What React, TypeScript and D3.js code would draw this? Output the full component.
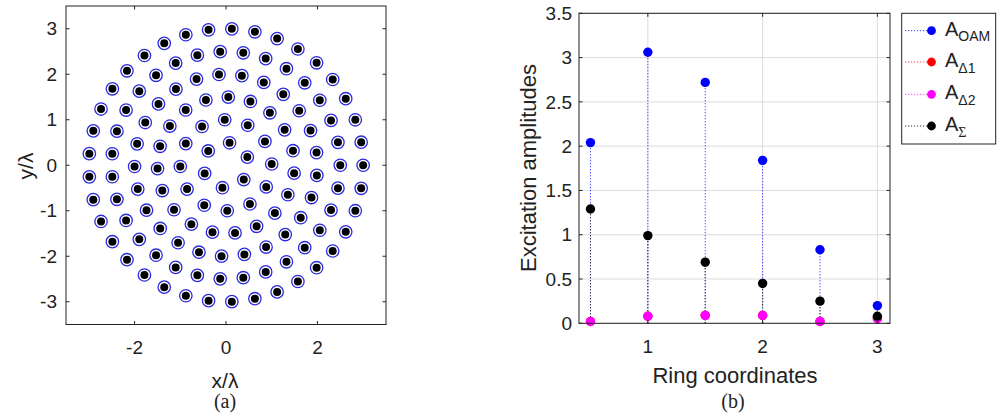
import React from "react";
import * as d3 from "d3";

// ---- Panel (a): concentric ring array ----
const ringRadii = [0.5, 1, 1.5, 2, 2.5, 3];
const ringCounts = [6, 12, 19, 25, 31, 37];
const ringStartDeg = [21, 1.6, 12.3, 8, 0, 0];
const aTicks = [-3, -2, -1, 0, 1, 2, 3];
const aXTicks = [-2, 0, 2];

// ---- Panel (b): excitation amplitudes ----
const ringCoords = [0.5, 1, 1.5, 2, 2.5, 3];
const aOAM = [2.04, 3.06, 2.72, 1.84, 0.83, 0.2];
const aDelta1 = [0.02, 0.08, 0.09, 0.09, 0.02, 0.055];
const aDelta2 = [0.02, 0.08, 0.09, 0.09, 0.02, 0.055];
const aSigma = [1.29, 0.99, 0.69, 0.45, 0.25, 0.08];
const bYTicks = [0, 0.5, 1, 1.5, 2, 2.5, 3, 3.5];
const bXTicks = [1, 2, 3];

const FONT = "'Liberation Sans', Arial, sans-serif";
const SERIF = "'Liberation Serif', 'Times New Roman', serif";

export default function App() {
  // Panel (a) geometry
  const ax = d3.scaleLinear().domain([-3.5, 3.5]).range([66, 386]);
  const ay = d3.scaleLinear().domain([-3.5, 3.5]).range([324.5, 6]);

  const elements: { x: number; y: number }[] = [];
  ringRadii.forEach((r, i) => {
    const n = ringCounts[i];
    for (let k = 0; k < n; k++) {
      const th = ((ringStartDeg[i] + (360 * k) / n) * Math.PI) / 180;
      elements.push({ x: r * Math.cos(th), y: r * Math.sin(th) });
    }
  });

  // Panel (b) geometry
  const bx = d3.scaleLinear().domain([0.4, 3.11]).range([579, 890]);
  const by = d3.scaleLinear().domain([0, 3.5]).range([323.3, 13.3]);

  const series = [
    { name: "OAM", vals: aOAM, color: "#0000ff", stem: "#3b3bff" },
    { name: "D1", vals: aDelta1, color: "#ff0000", stem: "#ff4040" },
    { name: "D2", vals: aDelta2, color: "#ff00ff", stem: "#ff40ff" },
    { name: "S", vals: aSigma, color: "#000000", stem: "#333333" },
  ];

  const legendRows = [30.7, 62, 94.3, 126];

  return (
    <div style={{ position: "absolute", left: 0, top: 0 }}>
      <svg width={1004} height={417} style={{ display: "block", background: "#fff" }}>
        {/* ===== Panel (a) ===== */}
        <g>
          {elements.map((e, i) => (
            <g key={i}>
              <circle cx={ax(e.x)} cy={ay(e.y)} r={6.2} fill="none" stroke="#2a2ae0" strokeWidth={1.3} />
              <circle cx={ax(e.x)} cy={ay(e.y)} r={4} fill="#000" />
            </g>
          ))}
          <rect x={66} y={6} width={320} height={318.5} fill="none" stroke="#222" strokeWidth={1} />
          {aXTicks.map((t) => (
            <g key={"axt" + t}>
              <line x1={ax(t)} x2={ax(t)} y1={324.5} y2={321} stroke="#222" />
              <line x1={ax(t)} x2={ax(t)} y1={6} y2={9.5} stroke="#222" />
              <text x={ax(t)} y={354} textAnchor="middle" fontFamily={FONT} fontSize={19} fill="#222">
                {t}
              </text>
            </g>
          ))}
          {aTicks.map((t) => (
            <g key={"ayt" + t}>
              <line x1={66} x2={69.5} y1={ay(t)} y2={ay(t)} stroke="#222" />
              <line x1={386} x2={382.5} y1={ay(t)} y2={ay(t)} stroke="#222" />
              <text x={57} y={ay(t)} dy="0.35em" textAnchor="end" fontFamily={FONT} fontSize={19} fill="#222">
                {t}
              </text>
            </g>
          ))}
          <text x={225} y={388} textAnchor="middle" fontFamily={FONT} fontSize={21} fill="#222">
            x/λ
          </text>
          <text
            transform="translate(33,166) rotate(-90)"
            textAnchor="middle"
            fontFamily={FONT}
            fontSize={21}
            fill="#222"
          >
            y/λ
          </text>
          <text x={225} y={408} textAnchor="middle" fontFamily={SERIF} fontSize={20} fill="#222">
            (a)
          </text>
        </g>

        {/* ===== Panel (b) ===== */}
        <g>
          {bYTicks.map((t) => (
            <line key={"gy" + t} x1={579} x2={890} y1={by(t)} y2={by(t)} stroke="#dcdcdc" strokeWidth={1} />
          ))}
          {bXTicks.map((t) => (
            <line key={"gx" + t} x1={bx(t)} x2={bx(t)} y1={13.3} y2={323.3} stroke="#dcdcdc" strokeWidth={1} />
          ))}
          {/* stems */}
          {series.map((s) =>
            s.vals.map((v, i) => (
              <line
                key={s.name + "st" + i}
                x1={bx(ringCoords[i])}
                x2={bx(ringCoords[i])}
                y1={by(0)}
                y2={by(v)}
                stroke={s.stem}
                strokeWidth={1}
                strokeDasharray="1.2 1.8"
              />
            ))
          )}
          {/* markers */}
          {series.map((s) =>
            s.vals.map((v, i) => (
              <circle key={s.name + "m" + i} cx={bx(ringCoords[i])} cy={by(v)} r={4.7} fill={s.color} />
            ))
          )}
          <rect x={579} y={13.3} width={311} height={310} fill="none" stroke="#222" strokeWidth={1} />
          {bYTicks.map((t) => (
            <g key={"byt" + t}>
              <line x1={579} x2={582.5} y1={by(t)} y2={by(t)} stroke="#222" />
              <line x1={890} x2={886.5} y1={by(t)} y2={by(t)} stroke="#222" />
              <text x={572} y={by(t)} dy="0.35em" textAnchor="end" fontFamily={FONT} fontSize={19} fill="#222">
                {t}
              </text>
            </g>
          ))}
          {bXTicks.map((t) => (
            <g key={"bxt" + t}>
              <line x1={bx(t)} x2={bx(t)} y1={323.3} y2={319.8} stroke="#222" />
              <line x1={bx(t)} x2={bx(t)} y1={13.3} y2={16.8} stroke="#222" />
              <text x={bx(t)} y={353} textAnchor="middle" fontFamily={FONT} fontSize={19} fill="#222">
                {t}
              </text>
            </g>
          ))}
          <text x={735} y={383} textAnchor="middle" fontFamily={FONT} fontSize={22} fill="#222">
            Ring coordinates
          </text>
          <text
            transform="translate(536,168) rotate(-90)"
            textAnchor="middle"
            fontFamily={FONT}
            fontSize={22}
            fill="#222"
          >
            Excitation amplitudes
          </text>
          <text x={733} y={408} textAnchor="middle" fontFamily={SERIF} fontSize={20} fill="#222">
            (b)
          </text>

          {/* legend */}
          <rect x={901.7} y={13.3} width={94} height={130.7} fill="#fff" stroke="#222" strokeWidth={1} />
          {series.map((s, i) => (
            <g key={"lg" + s.name}>
              <line
                x1={905}
                x2={931}
                y1={legendRows[i]}
                y2={legendRows[i]}
                stroke={s.stem}
                strokeWidth={1}
                strokeDasharray="1.2 1.8"
              />
              <circle cx={931.5} cy={legendRows[i]} r={4.4} fill={s.color} />
              <text x={945} y={legendRows[i] + 5} fontFamily={FONT} fontSize={20} fill="#222">
                A
                {s.name === "OAM" && (
                  <tspan fontSize={14} dy={5}>
                    OAM
                  </tspan>
                )}
                {s.name === "D1" && (
                  <tspan fontSize={14} dy={6}>
                    Δ1
                  </tspan>
                )}
                {s.name === "D2" && (
                  <tspan fontSize={14} dy={6}>
                    Δ2
                  </tspan>
                )}
                {s.name === "S" && (
                  <tspan fontSize={14} dy={6} fontFamily={SERIF}>
                    Σ
                  </tspan>
                )}
              </text>
            </g>
          ))}
        </g>
      </svg>
    </div>
  );
}
